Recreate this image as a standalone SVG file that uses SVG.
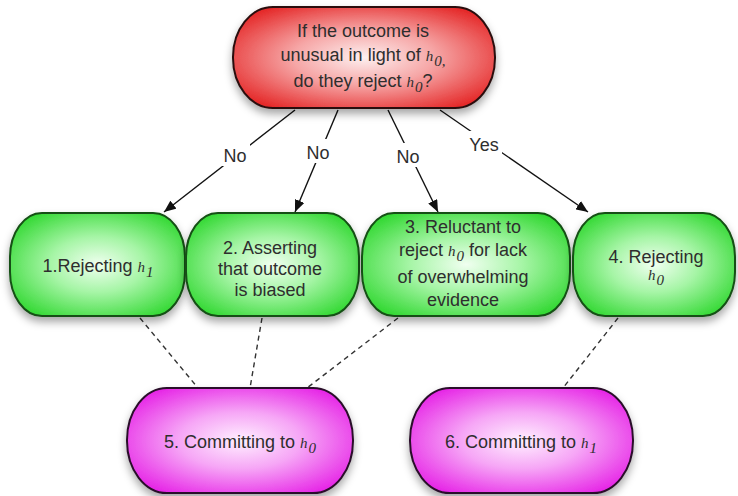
<svg xmlns="http://www.w3.org/2000/svg" width="738" height="496" viewBox="0 0 738 496">
<defs>
<radialGradient id="gRed" cx="50%" cy="50%" r="60%">
<stop offset="0" stop-color="#fdf0f0"/>
<stop offset="0.45" stop-color="#f6a6a6"/>
<stop offset="1" stop-color="#e52a2a"/>
</radialGradient>
<radialGradient id="gGreen" cx="50%" cy="50%" r="60%">
<stop offset="0" stop-color="#f0fff0"/>
<stop offset="0.45" stop-color="#a6f5a6"/>
<stop offset="1" stop-color="#35d935"/>
</radialGradient>
<radialGradient id="gMag" cx="50%" cy="50%" r="60%">
<stop offset="0" stop-color="#fff0ff"/>
<stop offset="0.45" stop-color="#f6a6f6"/>
<stop offset="1" stop-color="#e625e6"/>
</radialGradient>
<filter id="sh" x="-20%" y="-20%" width="140%" height="150%">
<feDropShadow dx="0" dy="5" stdDeviation="4" flood-color="#000" flood-opacity="0.35"/>
</filter>
<marker id="arr" viewBox="0 0 12 10" refX="12" refY="5" markerWidth="12" markerHeight="10" markerUnits="userSpaceOnUse" orient="auto">
<path d="M0,0 L12,5 L0,10 z" fill="#111"/>
</marker>
</defs>
<style>
.t{font-family:"Liberation Sans",Arial,sans-serif;font-size:18px;fill:#2e2e2e;text-anchor:middle}
.m{font-family:"Liberation Serif","Times New Roman",serif;font-style:italic;font-size:15px}
.s{font-family:"Liberation Serif","Times New Roman",serif;font-style:italic;font-size:15px}
.arrow{stroke:#111;stroke-width:1.4;fill:none;marker-end:url(#arr)}
.dash{stroke:#333;stroke-width:1.4;fill:none;stroke-dasharray:5,4}
.red{fill:url(#gRed);stroke:#2a1010;stroke-width:2}
.green{fill:url(#gGreen);stroke:#145014;stroke-width:2}
.mag{fill:url(#gMag);stroke:#2a102a;stroke-width:2}
.lbg{fill:#fff}
</style>

<g id="connectors">
<line class="dash" x1="140" y1="318" x2="198" y2="388"/>
<line class="dash" x1="262" y1="318" x2="250" y2="388"/>
<line class="dash" x1="398" y1="318" x2="307" y2="388"/>
<line class="dash" x1="618" y1="318" x2="563" y2="388"/>
<line class="arrow" x1="295" y1="110" x2="164" y2="212"/>
<line class="arrow" x1="338" y1="110" x2="295" y2="212"/>
<line class="arrow" x1="388" y1="110" x2="438" y2="212"/>
<line class="arrow" x1="440" y1="110" x2="588" y2="212"/>
<rect class="lbg" x="220" y="142" width="30" height="24"/>
<rect class="lbg" x="303" y="139" width="30" height="24"/>
<rect class="lbg" x="393" y="143" width="30" height="24"/>
<rect class="lbg" x="466" y="131" width="36" height="24"/>
<text class="t" x="235" y="162">No</text>
<text class="t" x="318" y="159">No</text>
<text class="t" x="408" y="163">No</text>
<text class="t" x="484" y="151">Yes</text>
</g>

<g id="node0">
<rect class="red" x="233" y="7" width="262" height="101" rx="40" ry="50" filter="url(#sh)"/>
<text class="t" x="363" y="37">If the outcome is</text>
<text class="t" x="363" y="61">unusual in light of <tspan class="m">h</tspan><tspan class="s" dx="1" dy="5">0</tspan><tspan class="s" dy="0">,</tspan></text>
<text class="t" x="363" y="87">do they reject <tspan class="m">h</tspan><tspan class="s" dx="1" dy="5">0</tspan><tspan dy="-5">?</tspan></text>
</g>

<g id="node1">
<rect class="green" x="10" y="213" width="175" height="103" rx="32" ry="44" filter="url(#sh)"/>
<text class="t" x="98" y="272">1.Rejecting <tspan class="m">h</tspan><tspan class="s" dx="1" dy="5">1</tspan></text>
</g>

<g id="node2">
<rect class="green" x="186" y="213" width="173" height="103" rx="32" ry="44" filter="url(#sh)"/>
<text class="t" x="270" y="254">2. Asserting</text>
<text class="t" x="270" y="275">that outcome</text>
<text class="t" x="270" y="296">is biased</text>
</g>

<g id="node3">
<rect class="green" x="362" y="213" width="208" height="103" rx="32" ry="44" filter="url(#sh)"/>
<text class="t" x="463" y="233">3. Reluctant to</text>
<text class="t" x="463" y="256">reject <tspan class="m">h</tspan><tspan class="s" dx="1" dy="5">0</tspan><tspan dy="-5"> for lack</tspan></text>
<text class="t" x="463" y="283">of overwhelming</text>
<text class="t" x="463" y="306">evidence</text>
</g>

<g id="node4">
<rect class="green" x="573" y="213" width="162" height="103" rx="32" ry="44" filter="url(#sh)"/>
<text class="t" x="656" y="263">4. Rejecting</text>
<text class="t" x="656" y="280"><tspan class="m">h</tspan><tspan class="s" dx="1" dy="5">0</tspan></text>
</g>

<g id="node5">
<rect class="mag" x="127" y="388" width="226" height="105" rx="40" ry="52" filter="url(#sh)"/>
<text class="t" x="240" y="448">5. Committing to <tspan class="m">h</tspan><tspan class="s" dx="1" dy="5">0</tspan></text>
</g>

<g id="node6">
<rect class="mag" x="410" y="388" width="223" height="105" rx="40" ry="52" filter="url(#sh)"/>
<text class="t" x="521" y="448">6. Committing to <tspan class="m">h</tspan><tspan class="s" dx="1" dy="5">1</tspan></text>
</g>
</svg>
